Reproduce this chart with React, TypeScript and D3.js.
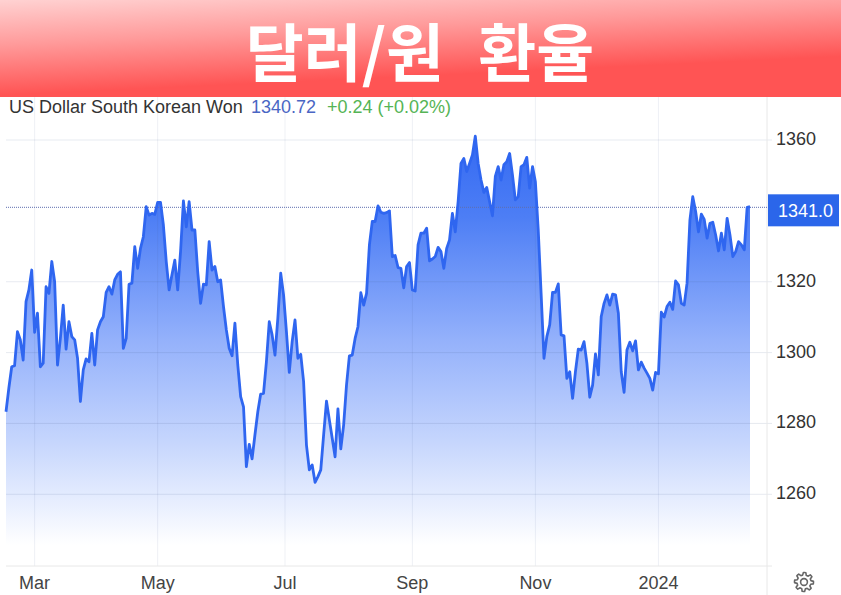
import React from "react";
import * as d3 from "d3";

const chartTitle = "달러/원 환율";
const seriesName = "US Dollar South Korean Won";
const lastQuote = "1340.72";
const quoteChange = "+0.24 (+0.02%)";
const lastLabel = "1341.0";
const lastValue = 1341;

// Daily closes, one per trading session.
const rates = [
  1283.3, 1290, 1296, 1296.3, 1305.9, 1303.6, 1297.9, 1314.4, 1317.7, 1323.3,
  1305.7, 1311.1, 1296, 1297, 1318.6, 1316.7, 1325.7, 1320, 1296.5, 1304,
  1313.4, 1301, 1308.7, 1304.5, 1303.6, 1298.4, 1286.2, 1295.1, 1298.2, 1297.4,
  1305.4, 1296.5, 1306.4, 1308.7, 1310.1, 1317, 1318.6, 1316.5, 1320.5, 1322.1,
  1322.8, 1301.2, 1304, 1319.3, 1319.6, 1329.9, 1323.8, 1329.4, 1332.7, 1341.2,
  1338.8, 1339.3, 1339, 1342.4, 1342.4, 1336, 1325.7, 1317.7, 1322, 1326.1,
  1317.7, 1328.5, 1342.8, 1335.5, 1342.6, 1334.6, 1334.6, 1322.8, 1313.9, 1319.3,
  1319.1, 1331.3, 1323.3, 1324.3, 1320, 1320.5, 1313, 1306.4, 1301.2, 1299.1,
  1308.3, 1296.5, 1287.6, 1284.7, 1267.8, 1274.1, 1270, 1276.8, 1283.3, 1288.3,
  1288.5, 1297.4, 1308.7, 1305, 1299.3, 1309.7, 1322.4, 1316.3, 1305.9, 1294.4,
  1303.1, 1309.2, 1298.4, 1299.5, 1291.8, 1273.9, 1266.9, 1268.3, 1263.4, 1265,
  1266.9, 1276.8, 1286.3, 1281, 1275.8, 1270.6, 1284.1, 1272.8, 1279.6, 1290.9,
  1299.1, 1299.3, 1304, 1307.3, 1316.9, 1313.4, 1316.7, 1330.4, 1337, 1337,
  1341.4, 1339.6, 1339.3, 1339.5, 1340, 1327.1, 1327.4, 1324, 1323.8, 1318.3,
  1324.3, 1325.4, 1317.7, 1317.4, 1330.4, 1333.7, 1333.7, 1335.1, 1325.9, 1326.4,
  1327.1, 1329.7, 1328.5, 1323.8, 1329.4, 1331.8, 1339.3, 1334.1, 1342.6, 1353.4,
  1354.8, 1351.1, 1353.4, 1355.8, 1361.1, 1353.4, 1348.7, 1345.2, 1346.6, 1342.6,
  1338.6, 1349.7, 1352.5, 1348.7, 1353, 1353.9, 1356.2, 1350.1, 1343.1, 1344,
  1352.5, 1353, 1355.1, 1346.4, 1352.5, 1348.2, 1334.6, 1316.7, 1298.4, 1304.5,
  1307.8, 1317, 1317, 1319.4, 1305, 1304.7, 1292.7, 1294.6, 1287.1, 1294.6,
  1301, 1300.7, 1303.1, 1297, 1287.4, 1290.8, 1299.6, 1293.7, 1310.1, 1313.9,
  1316.3, 1313.4, 1316.5, 1316.3, 1311.1, 1294.6, 1288.8, 1300.7, 1302.9, 1300.5,
  1303.3, 1295.1, 1297.3, 1295.6, 1294.2, 1292.7, 1289.4, 1294.4, 1294, 1311.4,
  1310, 1313, 1314.2, 1312.2, 1320.2, 1319.1, 1313.9, 1313.4, 1319.6, 1337.4,
  1344, 1339.8, 1334.1, 1339.1, 1337.6, 1332.3, 1336.5, 1336.8, 1333.2, 1328.7,
  1333.7, 1329, 1337.9, 1333.2, 1327.1, 1328.5, 1331.3, 1330.4, 1329, 1341,
  1341.2,
];

const yTicks = [1260, 1280, 1300, 1320, 1360];
const xTickLabels = ["Mar", "May", "Jul", "Sep", "Nov", "2024"];
const xTickSessions = [10, 53, 97.5, 142, 185, 228];

const W = 841;
const H = 595;
const x = d3.scaleLinear().domain([0, rates.length - 1]).range([6, 750]);
const y = d3.scaleLinear().domain([1260, 1360]).range([494.3, 140]);
const plotTop = 97;
const plotBottom = 566;
const plotRight = 767;
const fadeBottom = 545;

const line = d3.line<number>().x((_, i) => x(i)).y((d) => y(d));
const area = d3
  .area<number>()
  .x((_, i) => x(i))
  .y0(fadeBottom)
  .y1((d) => y(d));

const gearR = d3.range(0, 48).map((i) => {
  const a = ((i - 0.5) / 48) * Math.PI * 2;
  return [a, i % 6 < 3 ? 9.5 : 7] as [number, number];
});
const gear = d3.lineRadial().curve(d3.curveLinearClosed)(gearR) || "";

const sans = "'Liberation Sans', Arial, sans-serif";
const gridColor = "rgba(70,90,140,0.13)";

export default function App() {
  return (
    <svg
      width={W}
      height={H}
      viewBox={`0 0 ${W} ${H}`}
      style={{ position: "fixed", left: 0, top: 0, background: "#fff" }}
      fontFamily={sans}
    >
      <defs>
        <linearGradient id="hdr" gradientUnits="userSpaceOnUse" x1="0" y1="-5" x2="4.6" y2="95">
          <stop offset="0" stopColor="#ffd8d8" />
          <stop offset="0.5" stopColor="#ff9a9a" />
          <stop offset="1" stopColor="#ff5454" />
        </linearGradient>
        <linearGradient id="fill" gradientUnits="userSpaceOnUse" x1="0" y1="135" x2="0" y2={fadeBottom}>
          <stop offset="0" stopColor="#3369f2" />
          <stop offset="0.2" stopColor="#4d7ef5" />
          <stop offset="0.5" stopColor="#94b1fb" />
          <stop offset="0.75" stopColor="#c6d6fd" />
          <stop offset="1" stopColor="#ffffff" />
        </linearGradient>
      </defs>

      <path d={area(rates) || ""} fill="url(#fill)" />

      {yTicks.map((t) => (
        <line key={t} x1={6} x2={772} y1={y(t)} y2={y(t)} stroke={gridColor} />
      ))}
      {xTickSessions.map((s) => (
        <line key={s} x1={x(s)} x2={x(s)} y1={plotTop} y2={plotBottom} stroke="rgba(70,90,140,0.09)" />
      ))}
      <line x1={plotRight} x2={plotRight} y1={plotTop} y2={H} stroke="#e8e8e8" />
      <line x1={6} x2={772} y1={plotBottom} y2={plotBottom} stroke="#e8e8e8" />

      <line x1={6} x2={plotRight} y1={y(lastValue)} y2={y(lastValue)} stroke="#5f6fb0" strokeDasharray="1 1" />

      <path d={line(rates) || ""} fill="none" stroke="#2f66f0" strokeWidth={2.8} strokeLinejoin="round" />

      {yTicks.map((t) => (
        <text key={t} x={776} y={y(t) + 5} fontSize={18} fill="#333">
          {t}
        </text>
      ))}
      {xTickLabels.map((l, i) => (
        <text key={l} x={x(xTickSessions[i])} y={589} fontSize={18} fill="#444" textAnchor="middle">
          {l}
        </text>
      ))}

      <rect x={768} y={y(lastValue) - 13} width={71} height={32} fill="#2b66ea" />
      <text x={778} y={y(lastValue) + 10} fontSize={18} fill="#fff">
        {lastLabel}
      </text>

      <g transform="translate(804,582)">
        <path d={gear} fill="none" stroke="#666" strokeWidth={1.6} strokeLinejoin="round" />
        <circle r={3.4} fill="none" stroke="#666" strokeWidth={1.6} />
      </g>

      <text x={9} y={113} fontSize={18} fill="#333">
        {seriesName}
      </text>
      <text x={251} y={113} fontSize={18} fill="#4a66c4">
        {lastQuote}
      </text>
      <text x={327} y={113} fontSize={18} fill="#55b455">
        {quoteChange}
      </text>

      <rect x={0} y={0} width={W} height={97} fill="url(#hdr)" />
      <text
        x={420}
        y={76}
        fontSize={63}
        fontWeight={700}
        fill="#fff"
        textAnchor="middle"
        wordSpacing={20}
        fontFamily="'Noto Sans CJK KR', sans-serif"
      >
        {chartTitle}
      </text>
    </svg>
  );
}
